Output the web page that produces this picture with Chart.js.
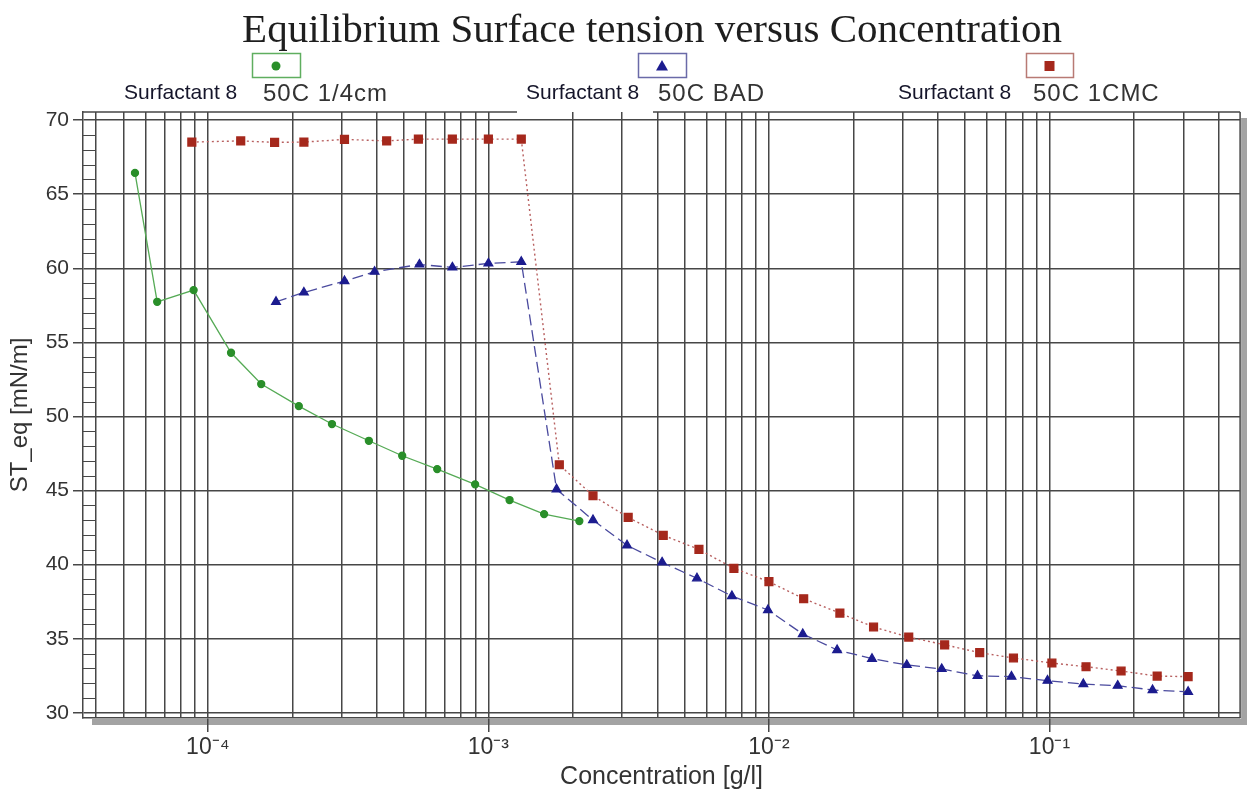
<!DOCTYPE html>
<html>
<head>
<meta charset="utf-8">
<title>Equilibrium Surface tension versus Concentration</title>
<script src="https://cdn.jsdelivr.net/npm/chart.js@4.4.1/dist/chart.umd.min.js"></script>
<style>
  html, body { margin: 0; padding: 0; background: #fff; }
  #wrap { width: 1247px; height: 796px; position: relative; }
</style>
</head>
<body>
<div id="wrap"><canvas id="st-chart"></canvas></div>
<script>
// concentration [g/l] and ST_eq [mN/m]
const greenConc = [5.5e-5, 6.6e-5, 8.9e-5, 1.21e-4, 1.55e-4, 2.11e-4, 2.77e-4, 3.75e-4, 4.93e-4, 6.57e-4, 8.97e-4, 1.19e-3, 1.58e-3, 2.11e-3];
const greenST = [66.44, 57.74, 58.53, 54.30, 52.19, 50.70, 49.49, 48.36, 47.35, 46.45, 45.42, 44.36, 43.41, 42.94];

const blueConc = [1.75e-4, 2.2e-4, 3.07e-4, 3.93e-4, 5.68e-4, 7.44e-4, 1.0e-3, 1.31e-3, 1.75e-3, 2.36e-3, 3.12e-3, 4.16e-3, 5.54e-3, 7.38e-3, 9.92e-3, 1.32e-2, 1.75e-2, 2.33e-2, 3.1e-2, 4.13e-2, 5.54e-2, 7.32e-2, 9.84e-2, 0.132, 0.175, 0.233, 0.312];
const blueST = [57.74, 58.37, 59.14, 59.77, 60.26, 60.06, 60.33, 60.44, 45.08, 43.01, 41.30, 40.15, 39.08, 37.88, 36.94, 35.32, 34.24, 33.65, 33.23, 32.96, 32.50, 32.44, 32.17, 31.94, 31.83, 31.54, 31.42];

const redConc = [8.77e-5, 1.31e-4, 1.73e-4, 2.2e-4, 3.07e-4, 4.34e-4, 5.63e-4, 7.44e-4, 1.0e-3, 1.31e-3, 1.79e-3, 2.36e-3, 3.15e-3, 4.2e-3, 5.63e-3, 7.5e-3, 1.0e-2, 1.33e-2, 1.79e-2, 2.36e-2, 3.15e-2, 4.23e-2, 5.64e-2, 7.44e-2, 0.102, 0.135, 0.180, 0.242, 0.312];
const redST = [68.52, 68.60, 68.50, 68.52, 68.70, 68.60, 68.72, 68.72, 68.72, 68.72, 46.74, 44.65, 43.19, 41.98, 41.03, 39.75, 38.85, 37.70, 36.73, 35.79, 35.11, 34.59, 34.06, 33.70, 33.36, 33.11, 32.82, 32.48, 32.44];

const seriesNames = ['50C 1/4cm', '50C BAD', '50C 1CMC'];
const sampleName = 'Surfactant 8';

const xMajorTicks = [1e-4, 1e-3, 1e-2, 1e-1];
const xTickLabels = ['10\u207B\u2074', '10\u207B\u00B3', '10\u207B\u00B2', '10\u207B\u00B9'];
const yTickLabels = [30, 35, 40, 45, 50, 55, 60, 65, 70];

const X_MIN = 3.59e-5, X_MAX = 0.478;
const Y_MIN = 29.65, Y_MAX = 70.55;

const GRID = '#474747';

// every 1..9 x 10^n inside the axis range
const xGridTicks = [];
for (let e = -5; e <= 0; e++) {
  for (let k = 1; k <= 9; k++) {
    const v = k * Math.pow(10, e);
    if (v >= X_MIN && v <= X_MAX) xGridTicks.push(v);
  }
}
const yGridTicks = [];
for (let v = 30; v <= 70; v++) yGridTicks.push(v);

const isMajorX = (v) => xMajorTicks.some((m) => Math.abs(v / m - 1) < 1e-6);
const pts = (xs, ys) => xs.map((x, i) => ({ x: x, y: ys[i] }));

const legendItems = [
  { box: [252, 53, 48, 24], shape: 'circle', fill: '#2a8f2a', edge: '#5fae5f', sx: 124, tx: 263, text: seriesNames[0] },
  { box: [638, 53, 48, 24], shape: 'triangle', fill: '#1c1c8f', edge: '#6a6aa8', sx: 526, tx: 658, text: seriesNames[1] },
  { box: [1026, 53, 47, 24], shape: 'rect', fill: '#a5281c', edge: '#b87a74', sx: 898, tx: 1033, text: seriesNames[2] },
];

function drawSymbol(ctx, shape, x, y) {
  ctx.beginPath();
  if (shape === 'circle') {
    ctx.arc(x, y, 4.5, 0, Math.PI * 2);
  } else if (shape === 'triangle') {
    ctx.moveTo(x, y - 6);
    ctx.lineTo(x + 6, y + 4.5);
    ctx.lineTo(x - 6, y + 4.5);
    ctx.closePath();
  } else {
    ctx.rect(x - 5, y - 5, 10, 10);
  }
  ctx.fill();
}

const framePlugin = {
  id: 'frame',
  beforeDraw(chart) {
    const { ctx, chartArea: a } = chart;
    ctx.save();
    ctx.fillStyle = '#a3a3a3';
    ctx.fillRect(a.right + 1, a.top + 6, 6, a.bottom - a.top + 1);
    ctx.fillRect(a.left + 9, a.bottom + 1, a.right - a.left - 2, 6);
    ctx.restore();
  },
  beforeDatasetsDraw(chart) {
    const { ctx, chartArea: a } = chart;
    const y = chart.scales.y;
    ctx.save();
    ctx.strokeStyle = GRID;
    ctx.lineWidth = 1.5;
    ctx.beginPath();
    // top edge, broken behind the middle legend entry
    ctx.moveTo(a.left, a.top); ctx.lineTo(517, a.top);
    ctx.moveTo(653, a.top); ctx.lineTo(a.right, a.top);
    ctx.moveTo(a.right, a.top); ctx.lineTo(a.right, a.bottom);
    ctx.stroke();
    // minor ladder ticks on the inside of the y axis
    ctx.lineWidth = 1.2;
    ctx.beginPath();
    yGridTicks.forEach((v) => {
      if (v % 5 === 0) return;
      const py = Math.round(y.getPixelForValue(v)) + 0.5;
      ctx.moveTo(a.left, py);
      ctx.lineTo(a.left + 12, py);
    });
    ctx.stroke();
    ctx.restore();
  },
  afterDraw(chart) {
    const ctx = chart.ctx;
    ctx.save();
    ctx.fillStyle = '#1e1e1e';
    ctx.font = '41px "Liberation Serif", "Times New Roman", serif';
    ctx.textAlign = 'center';
    ctx.textBaseline = 'alphabetic';
    ctx.fillText('Equilibrium Surface tension versus Concentration', 652, 42);

    legendItems.forEach((it) => {
      const [bx, by, bw, bh] = it.box;
      ctx.strokeStyle = it.edge;
      ctx.lineWidth = 1.5;
      ctx.strokeRect(bx + 0.5, by + 0.5, bw, bh);
      ctx.fillStyle = it.fill;
      drawSymbol(ctx, it.shape, bx + bw / 2, by + bh / 2 + 1);

      ctx.textAlign = 'left';
      ctx.textBaseline = 'middle';
      ctx.letterSpacing = '0px';
      ctx.fillStyle = '#15152a';
      ctx.font = '21px "Liberation Sans", Arial, sans-serif';
      ctx.fillText(sampleName, it.sx, 93);
      ctx.letterSpacing = '1px';
      ctx.fillStyle = '#333';
      ctx.font = '24px "Liberation Sans", Arial, sans-serif';
      ctx.fillText(it.text, it.tx, 94);
    });
    ctx.letterSpacing = '0px';
    ctx.restore();
  },
};

const ctx = document.getElementById('st-chart');
new Chart(ctx, {
  type: 'scatter',
  data: {
    datasets: [
      {
        label: seriesNames[0],
        data: pts(greenConc, greenST),
        showLine: true,
        borderColor: '#55aa55',
        borderWidth: 1.3,
        backgroundColor: '#2a8f2a',
        pointBackgroundColor: '#2a8f2a',
        pointBorderColor: '#2a8f2a',
        pointStyle: 'circle',
        pointRadius: 3.5,
        tension: 0,
      },
      {
        label: seriesNames[1],
        data: pts(blueConc, blueST),
        showLine: true,
        borderColor: '#4a4a9e',
        borderWidth: 1.3,
        borderDash: [11, 5],
        backgroundColor: '#1c1c8f',
        pointBackgroundColor: '#1c1c8f',
        pointBorderColor: '#1c1c8f',
        pointStyle: 'triangle',
        pointRadius: 5,
        tension: 0,
      },
      {
        label: seriesNames[2],
        data: pts(redConc, redST),
        showLine: true,
        borderColor: '#b86060',
        borderWidth: 1.4,
        borderDash: [2, 3],
        backgroundColor: '#a5281c',
        pointBackgroundColor: '#a5281c',
        pointBorderColor: '#a5281c',
        pointStyle: 'rect',
        pointRadius: 5.5,
        tension: 0,
      },
    ],
  },
  options: {
    responsive: true,
    maintainAspectRatio: false,
    animation: false,
    layout: { padding: { top: 112, right: 6, left: 0, bottom: 0 } },
    plugins: {
      legend: { display: false },
      title: { display: false },
      tooltip: { enabled: false },
    },
    scales: {
      x: {
        type: 'logarithmic',
        min: X_MIN,
        max: X_MAX,
        afterFit: (scale) => { scale.height = 78; },
        afterBuildTicks: (scale) => { scale.ticks = xGridTicks.map((v) => ({ value: v })); },
        border: { display: true, color: GRID, width: 1.5 },
        grid: {
          color: GRID,
          lineWidth: 1.5,
          tickLength: 14,
          tickColor: (c) => (c.tick && isMajorX(c.tick.value) ? GRID : 'rgba(0,0,0,0)'),
        },
        ticks: {
          autoSkip: false,
          maxRotation: 0,
          padding: 2,
          color: '#333',
          font: { family: '"Liberation Sans", Arial, sans-serif', size: 23 },
          callback: (value) => {
            const i = xMajorTicks.findIndex((m) => Math.abs(value / m - 1) < 1e-6);
            return i >= 0 ? xTickLabels[i] : '';
          },
        },
        title: {
          display: true,
          text: 'Concentration [g/l]',
          color: '#333',
          font: { family: '"Liberation Sans", Arial, sans-serif', size: 25 },
          padding: { top: 0, bottom: 4 },
        },
      },
      y: {
        min: Y_MIN,
        max: Y_MAX,
        afterFit: (scale) => { scale.width = 83; },
        afterBuildTicks: (scale) => { scale.ticks = yGridTicks.map((v) => ({ value: v })); },
        border: { display: true, color: GRID, width: 1.5 },
        grid: {
          color: (c) => (c.tick && c.tick.value % 5 === 0 ? GRID : 'rgba(0,0,0,0)'),
          lineWidth: 1.5,
          tickLength: 10,
          tickColor: (c) => (c.tick && c.tick.value % 5 === 0 ? GRID : 'rgba(0,0,0,0)'),
        },
        ticks: {
          autoSkip: false,
          padding: 4,
          color: '#333',
          font: { family: '"Liberation Sans", Arial, sans-serif', size: 21 },
          callback: (value) => (yTickLabels.includes(value) ? String(value) : ''),
        },
        title: {
          display: true,
          text: 'ST_eq [mN/m]',
          color: '#333',
          font: { family: '"Liberation Sans", Arial, sans-serif', size: 24 },
          padding: { top: 6, bottom: 0 },
        },
      },
    },
  },
  plugins: [framePlugin],
});
</script>
</body>
</html>
